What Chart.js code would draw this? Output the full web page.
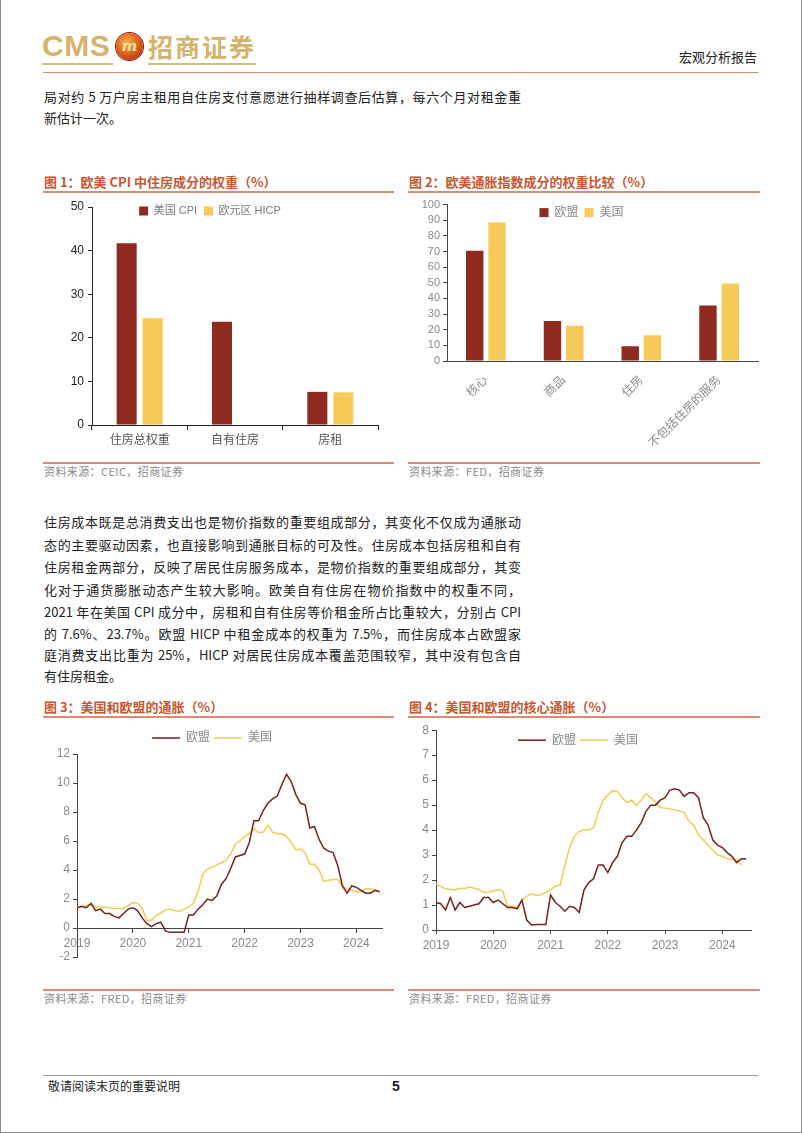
<!DOCTYPE html>
<html lang="zh-CN">
<head>
<meta charset="utf-8">
<title>宏观分析报告</title>
<script src="https://cdn.jsdelivr.net/npm/chart.js@4.4.1/dist/chart.umd.min.js"></script>
<style>
  html, body { margin: 0; padding: 0; background: #fff; }
  body { width: 802px; height: 1133px; position: relative; overflow: hidden;
         font-family: "Noto Sans CJK SC", "Liberation Sans", sans-serif; color: #222; }
  .frame { position: absolute; left: 0; top: 0; width: 800px; height: 1132px;
           border-left: 1px solid #8a8a8a; border-right: 1px solid #8a8a8a; border-bottom: 1px solid #8a8a8a; }
  .abs { position: absolute; white-space: nowrap; }
  .txt { font-size: 13px; line-height: 20px; left: 44px; }
  .j { width: 477px; text-align: justify; text-align-last: justify; }
  .ftitle { font-size: 13px; line-height: 18px; font-weight: bold; color: #c9562f; }
  .rule { position: absolute; height: 2px; background: #dc8a72; }
  .src { font-size: 11px; line-height: 14px; color: #8a8a8a; letter-spacing: 0.4px; }
  canvas { position: absolute; }
  .logo-cms { font-family: "Liberation Sans", sans-serif; font-weight: bold; font-size: 30px;
              line-height: 30px; color: #d5b36c; letter-spacing: 0.5px; }
  .logo-cn { font-weight: bold; font-size: 25px; line-height: 30px; color: #d5b36c; letter-spacing: 2px; }
  .badge { position: absolute; left: 116px; top: 33px; width: 27px; height: 27px; border-radius: 50%;
           background: radial-gradient(circle at 40% 35%, #f7b24a 0%, #e0661f 45%, #a51d16 100%);
           box-shadow: 0 0 0 1px #8e1b12; }
  .badge span { position: absolute; left: 0; top: 3px; width: 27px; text-align: center;
                font-family: "DejaVu Serif", serif; font-style: italic; font-weight: bold;
                font-size: 15px; line-height: 20px; color: #fbe39a; }
</style>
</head>
<body>
<div class="frame"></div>

<!-- header -->
<div class="abs logo-cms" style="left:42px; top:31px;">CMS</div>
<div class="badge"><span>m</span></div>
<div class="abs logo-cn" style="left:148px; top:31px;">招商证券</div>
<div class="abs" style="left:42px; top:63px; width:71px; height:2px; background:#d9bb7c;"></div>
<div class="abs" style="left:148px; top:63px; width:108px; height:2px; background:#d9bb7c;"></div>
<div class="abs" style="left:679px; top:48px; font-size:13px; line-height:18px;">宏观分析报告</div>
<div class="abs" style="left:43px; top:72px; width:715px; height:1px; background:#e08a70;"></div>

<!-- paragraph 1 -->
<div class="abs txt j" style="top:87px;">局对约 5 万户房主租用自住房支付意愿进行抽样调查后估算，每六个月对租金重</div>
<div class="abs txt" style="top:108px;">新估计一次。</div>

<!-- figure 1 / 2 headers -->
<div class="abs ftitle" style="left:44px; top:173px;">图 1：欧美 CPI 中住房成分的权重（%）</div>
<div class="rule" style="left:43px; top:191px; width:351px;"></div>
<div class="abs ftitle" style="left:409px; top:173px;">图 2：欧美通胀指数成分的权重比较（%）</div>
<div class="rule" style="left:408px; top:191px; width:352px;"></div>

<canvas id="fig1" width="350" height="262" style="left:42px; top:195px;"></canvas>
<canvas id="fig2" width="360" height="262" style="left:405px; top:195px;"></canvas>

<div class="rule" style="left:43px; top:462px; width:351px;"></div>
<div class="abs src" style="left:44px; top:464px;">资料来源：CEIC，招商证券</div>
<div class="rule" style="left:408px; top:462px; width:352px;"></div>
<div class="abs src" style="left:409px; top:464px;">资料来源：FED，招商证券</div>

<!-- paragraph 2 -->
<div class="abs txt j" style="top:512px;">住房成本既是总消费支出也是物价指数的重要组成部分，其变化不仅成为通胀动</div>
<div class="abs txt j" style="top:535px;">态的主要驱动因素，也直接影响到通胀目标的可及性。住房成本包括房租和自有</div>
<div class="abs txt j" style="top:557px;">住房租金两部分，反映了居民住房服务成本，是物价指数的重要组成部分，其变</div>
<div class="abs txt j" style="top:580px;">化对于通货膨胀动态产生较大影响。欧美自有住房在物价指数中的权重不同，</div>
<div class="abs txt j" style="top:602px;">2021 年在美国 CPI 成分中，房租和自有住房等价租金所占比重较大，分别占 CPI</div>
<div class="abs txt j" style="top:624px;">的 7.6%、23.7%。欧盟 HICP 中租金成本的权重为 7.5%，而住房成本占欧盟家</div>
<div class="abs txt j" style="top:645px;">庭消费支出比重为 25%，HICP 对居民住房成本覆盖范围较窄，其中没有包含自</div>
<div class="abs txt" style="top:666px;">有住房租金。</div>

<!-- figure 3 / 4 headers -->
<div class="abs ftitle" style="left:44px; top:698px;">图 3：美国和欧盟的通胀（%）</div>
<div class="rule" style="left:43px; top:716px; width:351px;"></div>
<div class="abs ftitle" style="left:409px; top:698px;">图 4：美国和欧盟的核心通胀（%）</div>
<div class="rule" style="left:408px; top:716px; width:352px;"></div>

<canvas id="fig3" width="350" height="268" style="left:42px; top:720px;"></canvas>
<canvas id="fig4" width="360" height="268" style="left:405px; top:720px;"></canvas>

<div class="rule" style="left:43px; top:989px; width:351px;"></div>
<div class="abs src" style="left:44px; top:991px;">资料来源：FRED，招商证券</div>
<div class="rule" style="left:408px; top:989px; width:352px;"></div>
<div class="abs src" style="left:409px; top:991px;">资料来源：FRED，招商证券</div>

<!-- footer -->
<div class="abs" style="left:43px; top:1075px; width:715px; height:1px; background:#9a9a9a;"></div>
<div class="abs" style="left:48px; top:1078px; font-size:12px; line-height:16px;">敬请阅读末页的重要说明</div>
<div class="abs" style="left:392px; top:1077px; font-family:'Liberation Sans',sans-serif; font-weight:bold; font-size:14px; line-height:18px;">5</div>

<script>
// ---- data ----
const fig1Categories = ['住房总权重', '自有住房', '房租'];
const fig1US = [41.7, 23.7, 7.6];
const fig1EA = [24.5, null, 7.5];

const fig2Categories = ['核心', '商品', '住房', '不包括住房的服务'];
const fig2EU = [70.5, 25.5, 9.5, 35.5];
const fig2US = [88.5, 22.5, 16.5, 49.5];

// monthly, Jan 2019 .. Jun 2024
const yearTicks = ['2019', '2020', '2021', '2022', '2023', '2024'];

const headlineEU = [
  1.4, 1.5, 1.4, 1.7, 1.2, 1.3, 1.0, 1.0, 0.8, 0.7, 1.0, 1.3,
  1.4, 1.2, 0.7, 0.3, 0.1, 0.3, 0.4, -0.2, -0.3, -0.3, -0.3, -0.3,
  0.9, 0.9, 1.3, 1.6, 2.0, 1.9, 2.2, 3.0, 3.4, 4.1, 4.9, 5.0,
  5.1, 5.9, 7.4, 7.4, 8.1, 8.6, 8.9, 9.1, 9.9, 10.6, 10.1, 9.2,
  8.6, 8.5, 6.9, 7.0, 6.1, 5.5, 5.3, 5.2, 4.3, 2.9, 2.4, 2.9,
  2.8, 2.6, 2.4, 2.4, 2.6, 2.5
];
const headlineUS = [
  1.45, 1.45, 1.55, 1.6, 1.45, 1.45, 1.45, 1.4, 1.35, 1.35, 1.35, 1.55,
  1.75, 1.7, 1.35, 0.5, 0.55, 0.85, 1.05, 1.25, 1.3, 1.2, 1.15, 1.3,
  1.45, 1.7, 2.5, 3.7, 4.05, 4.2, 4.35, 4.5, 4.65, 5.1, 5.8, 6.0,
  6.3, 6.5, 6.85, 6.6, 6.6, 7.1, 6.6, 6.5, 6.5, 6.3, 5.9, 5.4,
  5.45, 5.2, 4.4, 4.4, 4.0, 3.2, 3.3, 3.35, 3.35, 2.9, 2.7, 2.6,
  2.5, 2.5, 2.7, 2.7, 2.6, 2.5
];
const coreEU = [
  1.1, 1.05, 0.8, 1.3, 0.8, 1.1, 0.9, 0.95, 1.0, 1.05, 1.3, 1.3,
  1.1, 1.2, 1.05, 0.9, 0.9, 0.85, 1.2, 0.4, 0.2, 0.22, 0.22, 0.22,
  1.4, 1.1, 0.95, 0.75, 0.95, 0.9, 0.7, 1.6, 1.9, 2.05, 2.6, 2.6,
  2.3, 2.7, 2.95, 3.5, 3.75, 3.75, 4.0, 4.3, 4.75, 5.0, 5.0, 5.2,
  5.3, 5.6, 5.65, 5.6, 5.35, 5.5, 5.5, 5.3, 4.5, 4.2, 3.6, 3.4,
  3.3, 3.1, 2.95, 2.7, 2.85, 2.85
];
const coreUS = [
  1.85, 1.75, 1.65, 1.62, 1.6, 1.67, 1.66, 1.72, 1.67, 1.62, 1.5, 1.52,
  1.56, 1.62, 1.55, 0.95, 0.95, 0.9, 1.2, 1.35, 1.45, 1.38, 1.42, 1.5,
  1.62, 1.75, 1.8, 2.6, 3.3, 3.75, 3.95, 4.0, 4.0, 4.1, 4.7, 5.2,
  5.4, 5.58, 5.55, 5.3, 5.1, 5.2, 4.98, 5.2, 5.45, 5.3, 5.1, 4.9,
  4.88, 4.85, 4.8, 4.78, 4.7, 4.35, 4.2, 3.8, 3.6, 3.4, 3.2, 3.0,
  2.95, 2.85, 2.83, 2.8, 2.6, null
];

// ---- styles ----
const BAR_RED = '#8e2a20';
const BAR_GOLD = '#f6ca58';
const LINE_RED = '#7a1f1c';
const LINE_GOLD = '#f1cb55';

Chart.defaults.font.family = '"Liberation Sans", Arial, "Noto Sans CJK SC", sans-serif';
Chart.defaults.color = '#8a8a8a';

// fixes the legend band height so the plot area lands where the reference has it,
// and lets the legend items sit over the plot (no clipping to the band)
function legendBand(height) {
  return {
    id: 'legendBand',
    beforeInit(chart) {
      const legend = chart.legend;
      const fit = legend.fit;
      legend.fit = function () {
        fit.call(this);
        this.height = height;
      };
      legend.draw = function () {
        if (this.options.display) this._draw();
      };
    }
  };
}

const toPoints = arr => arr.map((v, i) => ({ x: i, y: v }));
const yearLabel = v => (v % 12 === 0 ? yearTicks[v / 12] : '');

/**
 * FIG 1: bar chart
 */
new Chart(document.getElementById('fig1'), {
  type: 'bar',
  data: {
    labels: fig1Categories,
    datasets: [
      { label: '美国 CPI', data: fig1US, backgroundColor: BAR_RED, categoryPercentage: 0.546, barPercentage: 0.77 },
      { label: '欧元区 HICP', data: fig1EA, backgroundColor: BAR_GOLD, categoryPercentage: 0.546, barPercentage: 0.77 }
    ]
  },
  options: {
    responsive: false,
    animation: false,
    layout: { padding: { left: 0, right: 14, top: 3.5, bottom: 0 } },
    plugins: {
      tooltip: { enabled: false },
      legend: {
        position: 'top',
        labels: { boxWidth: 9, boxHeight: 9, padding: 7, color: '#7a7a7a', font: { size: 11 } }
      }
    },
    scales: {
      x: {
        afterFit: s => { s.height = 32; },
        border: { color: '#222' },
        grid: { drawOnChartArea: false, drawTicks: true, tickLength: 5, color: '#222' },
        ticks: { color: '#555', font: { size: 12 }, padding: 3 }
      },
      y: {
        min: 0, max: 50,
        afterFit: s => { s.width = 50; },
        border: { color: '#222' },
        grid: { drawOnChartArea: false, tickLength: 4, color: '#222' },
        ticks: { stepSize: 10, color: '#222', font: { size: 12 }, padding: 4 }
      }
    }
  },
  plugins: [legendBand(8.5)]
});

/**
 * FIG 2: bar chart with rotated labels
 */
new Chart(document.getElementById('fig2'), {
  type: 'bar',
  data: {
    labels: fig2Categories,
    datasets: [
      { label: '欧盟', data: fig2EU, backgroundColor: BAR_RED, categoryPercentage: 0.574, barPercentage: 0.78 },
      { label: '美国', data: fig2US, backgroundColor: BAR_GOLD, categoryPercentage: 0.574, barPercentage: 0.78 }
    ]
  },
  options: {
    responsive: false,
    animation: false,
    layout: { padding: { left: 0, right: 7, top: 4, bottom: 0 } },
    plugins: {
      tooltip: { enabled: false },
      legend: {
        position: 'top',
        labels: { boxWidth: 9, boxHeight: 9, padding: 6, color: '#8a8a8a', font: { size: 12 } }
      }
    },
    scales: {
      x: {
        afterFit: s => { s.height = 96; },
        border: { color: '#444' },
        grid: { display: false },
        ticks: { color: '#8a8a8a', font: { size: 12 }, minRotation: 45, maxRotation: 45, padding: 4 }
      },
      y: {
        min: 0, max: 100,
        afterFit: s => { s.width = 42; },
        border: { color: '#444' },
        grid: { drawOnChartArea: false, tickLength: 4, color: '#444' },
        ticks: { stepSize: 10, autoSkip: false, color: '#8a8a8a', font: { size: 11 }, padding: 3 }
      }
    }
  },
  plugins: [legendBand(4)]
});

/**
 * FIG 3 / FIG 4: line charts
 */
function lineChart(id, euData, usData, cfg) {
  return new Chart(document.getElementById(id), {
    type: 'line',
    data: {
      datasets: [
        { label: '欧盟', data: toPoints(euData), borderColor: LINE_RED, backgroundColor: LINE_RED,
          borderWidth: 1.5, pointRadius: 0, tension: 0 },
        { label: '美国', data: toPoints(usData), borderColor: LINE_GOLD, backgroundColor: LINE_GOLD,
          borderWidth: 1.5, pointRadius: 0, tension: 0 }
      ]
    },
    options: {
      responsive: false,
      animation: false,
      layout: { padding: cfg.padding },
      plugins: {
        tooltip: { enabled: false },
        legend: {
          position: 'top',
          labels: { usePointStyle: true, pointStyle: 'line', pointStyleWidth: 28, boxWidth: 28,
                    padding: 4, color: '#8a8a8a', font: { size: 12 } }
        }
      },
      scales: {
        x: {
          type: 'linear',
          min: 0, max: cfg.xMax,
          position: cfg.xPosition,
          afterFit: cfg.xHeight ? (s => { s.height = cfg.xHeight; }) : undefined,
          border: { color: '#444' },
          grid: { drawOnChartArea: false, tickLength: 4, color: '#444' },
          ticks: { stepSize: 12, includeBounds: false, callback: yearLabel,
                   color: '#8a8a8a', font: { size: 12 }, padding: 4, maxRotation: 0 }
        },
        y: {
          min: cfg.yMin, max: cfg.yMax,
          afterFit: s => { s.width = cfg.yWidth; },
          border: { color: '#444' },
          grid: { drawOnChartArea: false, tickLength: 4, color: '#444' },
          ticks: { stepSize: cfg.yStep, autoSkip: false, color: '#8a8a8a', font: { size: 12 }, padding: 3 }
        }
      }
    },
    plugins: [legendBand(cfg.legendHeight)]
  });
}

lineChart('fig3', headlineEU, headlineUS, {
  padding: { left: 0, right: 10, top: 8, bottom: 31 },
  legendHeight: 26,
  xMax: 65.5, xPosition: { y: 0 },
  yMin: -2, yMax: 12, yStep: 2, yWidth: 35
});

lineChart('fig4', coreEU, coreUS, {
  padding: { left: 0, right: 14, top: 8, bottom: 0 },
  legendHeight: 0,
  xMax: 66, xPosition: 'bottom', xHeight: 58,
  yMin: 0, yMax: 8, yStep: 1, yWidth: 31
});
</script>
</body>
</html>
